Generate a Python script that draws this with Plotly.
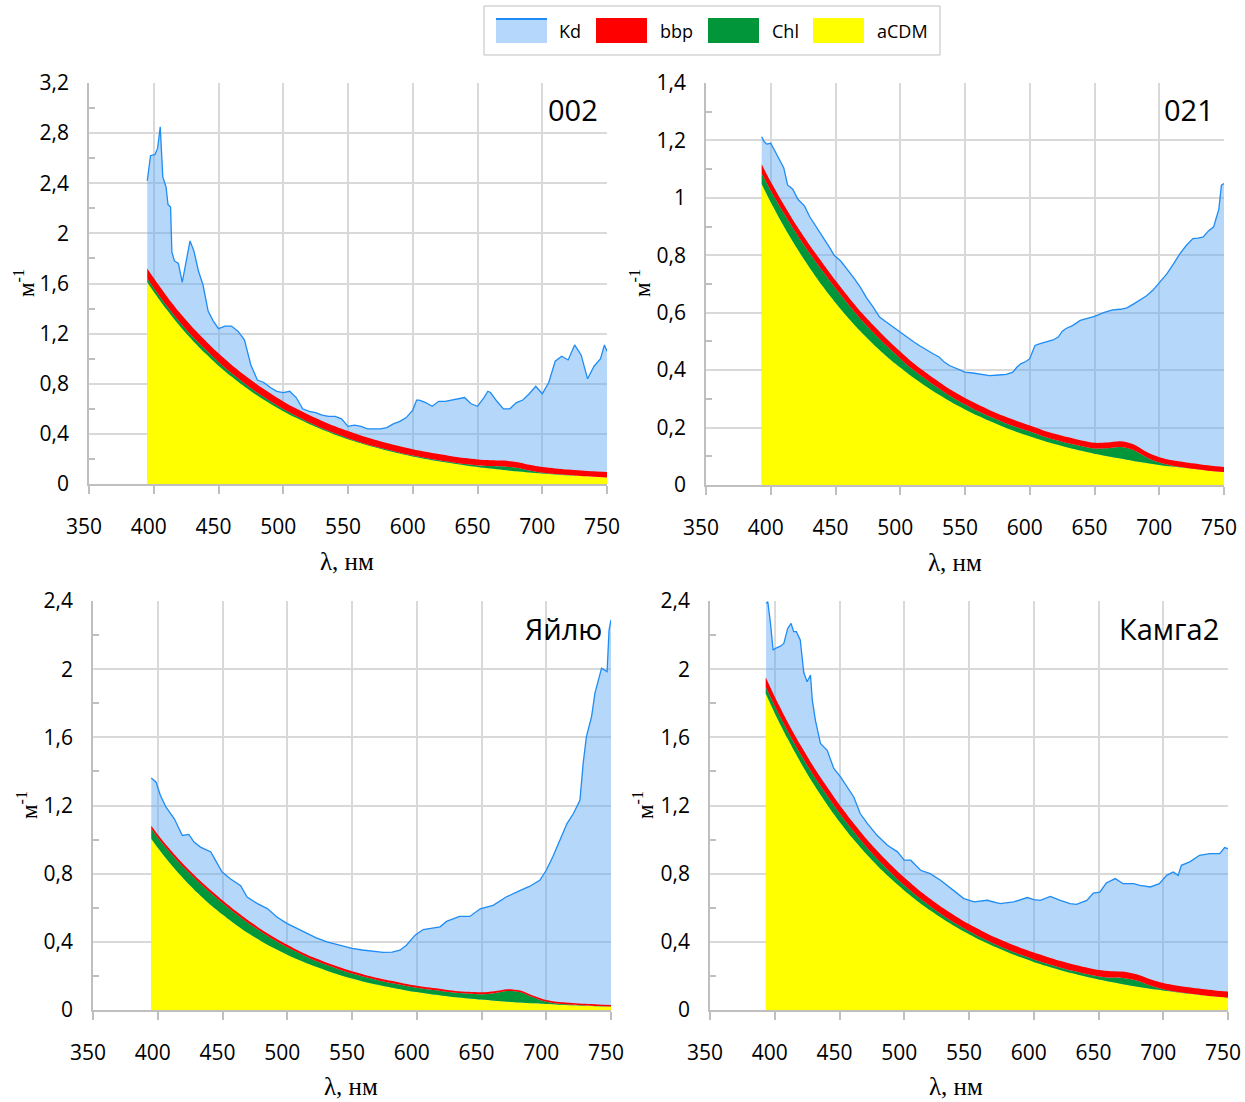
import plotly.graph_objects as go

# ---------------- data ----------------
# wavelength grids (nm) for modelled components
wl_a = [395, 400, 410, 420, 430, 440, 450, 460, 470, 480, 490, 500, 510, 520, 530, 540, 550, 560,
        570, 580, 590, 600, 610, 620, 630, 640, 650, 660, 670, 680, 690, 700, 710, 720, 730, 740, 750]
wl_b = [393, 400, 410, 420, 430, 440, 450, 460, 470, 480, 490, 500, 510, 520, 530, 540, 550, 560,
        570, 580, 590, 600, 610, 620, 630, 640, 650, 660, 670, 680, 690, 700, 710, 720, 730, 740, 750]

# ---- station 002 ----
acdm_002 = [1.61, 1.534, 1.392, 1.263, 1.146, 1.041, 0.944, 0.857, 0.778, 0.706, 0.641, 0.581, 0.528,
            0.479, 0.435, 0.394, 0.358, 0.325, 0.295, 0.268, 0.243, 0.220, 0.200, 0.181, 0.165, 0.150,
            0.136, 0.123, 0.112, 0.101, 0.092, 0.084, 0.076, 0.069, 0.063, 0.057, 0.051]
chl_002 = [0.030, 0.030, 0.030, 0.030, 0.030, 0.032, 0.030, 0.028, 0.025, 0.022, 0.020, 0.017, 0.014,
           0.012, 0.010, 0.009, 0.008, 0.007, 0.007, 0.007, 0.007, 0.007, 0.007, 0.008, 0.008, 0.009,
           0.012, 0.020, 0.028, 0.028, 0.015, 0.006, 0.003, 0.002, 0.001, 0.001, 0.001]
bbp_002 = [0.080, 0.079, 0.077, 0.075, 0.073, 0.071, 0.069, 0.067, 0.066, 0.064, 0.063, 0.061, 0.060,
           0.059, 0.058, 0.057, 0.056, 0.055, 0.054, 0.053, 0.052, 0.051, 0.050, 0.050, 0.049, 0.048,
           0.048, 0.047, 0.047, 0.046, 0.046, 0.045, 0.045, 0.044, 0.044, 0.043, 0.043]
kd_002_wl = [395, 396, 397.5, 401, 403, 405, 407, 409.5, 411, 413, 414, 416, 419, 422, 425.5, 428, 431,
             434.5, 438, 442, 446, 450, 455, 460, 465, 470, 475, 480, 485, 490, 495, 500, 505, 510, 515,
             520, 525, 530, 535, 540, 545, 550, 555, 560, 565, 570, 575, 580, 585, 590, 595, 600, 603,
             605, 610, 615, 620, 625, 630, 635, 640, 645, 650, 655, 658, 660, 665, 670, 675, 680, 685,
             690, 695, 700, 705, 710, 715, 720, 725, 730, 735, 740, 745, 748, 750]
kd_002 = [2.42, 2.50, 2.62, 2.63, 2.68, 2.85, 2.45, 2.37, 2.23, 2.21, 1.85, 1.78, 1.76, 1.61, 1.81, 1.94,
          1.86, 1.70, 1.59, 1.38, 1.30, 1.24, 1.26, 1.26, 1.22, 1.15, 0.95, 0.83, 0.81, 0.77, 0.74, 0.73,
          0.74, 0.69, 0.60, 0.58, 0.57, 0.55, 0.54, 0.54, 0.52, 0.46, 0.47, 0.46, 0.44, 0.44, 0.44, 0.45,
          0.48, 0.50, 0.53, 0.59, 0.67, 0.67, 0.65, 0.62, 0.66, 0.66, 0.67, 0.68, 0.69, 0.64, 0.62, 0.69,
          0.74, 0.73, 0.66, 0.60, 0.60, 0.65, 0.67, 0.72, 0.78, 0.72, 0.81, 0.98, 1.02, 0.99, 1.11, 1.03,
          0.84, 0.94, 1.00, 1.11, 1.06]

# ---- station 021 ----
acdm_021 = [1.048, 0.985, 0.902, 0.826, 0.757, 0.693, 0.635, 0.581, 0.532, 0.487, 0.446, 0.409, 0.374,
            0.343, 0.314, 0.287, 0.263, 0.241, 0.221, 0.202, 0.185, 0.170, 0.155, 0.142, 0.130, 0.119,
            0.109, 0.100, 0.092, 0.084, 0.077, 0.070, 0.064, 0.059, 0.054, 0.049, 0.045]
chl_021 = [0.037, 0.040, 0.045, 0.048, 0.050, 0.052, 0.050, 0.047, 0.043, 0.040, 0.036, 0.031, 0.027,
           0.024, 0.021, 0.019, 0.017, 0.016, 0.016, 0.016, 0.016, 0.016, 0.015, 0.015, 0.015, 0.016,
           0.018, 0.028, 0.040, 0.038, 0.020, 0.008, 0.003, 0.001, 0.000, 0.000, 0.000]
bbp_021 = [0.032, 0.031, 0.030, 0.029, 0.029, 0.028, 0.027, 0.027, 0.026, 0.026, 0.025, 0.025, 0.024,
           0.024, 0.024, 0.023, 0.023, 0.023, 0.022, 0.022, 0.022, 0.021, 0.021, 0.021, 0.021, 0.020,
           0.020, 0.020, 0.020, 0.020, 0.019, 0.019, 0.019, 0.019, 0.019, 0.018, 0.018]
kd_021_wl = [393, 395, 397, 400, 403, 406, 410, 413, 417, 421, 426, 430, 435, 440, 445, 449, 454, 459,
             464, 469, 474, 479, 484, 490, 495, 500, 505, 510, 515, 520, 525, 530, 534, 538, 544, 550,
             556, 562, 569, 576, 582, 587, 590, 593, 597, 600, 602, 604, 608, 613, 618, 622, 625, 628,
             633, 639, 645, 650, 657, 664, 670, 675, 680, 685, 690, 695, 700, 706, 711, 716, 721, 726,
             730, 734, 738, 742, 744, 746, 748, 750]
kd_021 = [1.213, 1.195, 1.187, 1.19, 1.165, 1.14, 1.105, 1.045, 1.03, 0.995, 0.972, 0.935, 0.898, 0.865,
          0.83, 0.80, 0.78, 0.752, 0.722, 0.69, 0.652, 0.62, 0.585, 0.565, 0.548, 0.532, 0.515, 0.5,
          0.485, 0.47, 0.458, 0.446, 0.428, 0.416, 0.404, 0.393, 0.39, 0.386, 0.381, 0.383, 0.385, 0.393,
          0.41, 0.422, 0.43, 0.44, 0.46, 0.486, 0.492, 0.498, 0.505, 0.515, 0.535, 0.545, 0.555, 0.573,
          0.58, 0.587, 0.6, 0.61, 0.612, 0.617, 0.63, 0.643, 0.658, 0.678, 0.705, 0.736, 0.77, 0.806,
          0.835, 0.858, 0.86, 0.864, 0.885, 0.899, 0.93, 0.96, 1.044, 1.05]

# ---- station Яйлю ----
acdm_yay = [1.005, 0.952, 0.856, 0.770, 0.692, 0.622, 0.560, 0.502, 0.450, 0.404, 0.362, 0.324, 0.290,
            0.259, 0.232, 0.207, 0.185, 0.165, 0.148, 0.132, 0.118, 0.105, 0.094, 0.084, 0.075, 0.068,
            0.061, 0.054, 0.049, 0.044, 0.039, 0.035, 0.031, 0.028, 0.025, 0.022, 0.020]
chl_yay = [0.058, 0.060, 0.064, 0.067, 0.069, 0.070, 0.068, 0.064, 0.059, 0.054, 0.049, 0.044, 0.040,
           0.036, 0.033, 0.031, 0.029, 0.028, 0.027, 0.026, 0.026, 0.026, 0.026, 0.026, 0.026, 0.028,
           0.032, 0.045, 0.062, 0.060, 0.035, 0.014, 0.006, 0.003, 0.002, 0.001, 0.001]
bbp_yay = [0.018, 0.018, 0.018, 0.017, 0.017, 0.017, 0.016, 0.016, 0.016, 0.015, 0.015, 0.015, 0.014,
           0.014, 0.014, 0.014, 0.013, 0.013, 0.013, 0.013, 0.012, 0.012, 0.012, 0.012, 0.011, 0.011,
           0.011, 0.011, 0.011, 0.010, 0.010, 0.010, 0.010, 0.010, 0.009, 0.009, 0.009]
kd_yay_wl = [395, 398.7, 402, 406.4, 412.8, 419, 424, 428, 433, 441, 444.6, 449.7, 456, 464, 469, 477,
             484.6, 492, 500, 507, 515, 522, 530.7, 540, 550, 558, 566.7, 574, 581, 587, 592, 598.7,
             605, 612, 618, 623, 633, 641, 649, 659, 669, 680, 687, 695, 700, 705, 710.6, 716, 721, 726,
             728.5, 731, 735, 737.6, 742.7, 747, 748.5, 750]
kd_yay = [1.362, 1.337, 1.26, 1.19, 1.122, 1.024, 1.03, 0.985, 0.956, 0.927, 0.878, 0.81, 0.77, 0.73,
          0.663, 0.624, 0.595, 0.546, 0.507, 0.48, 0.449, 0.425, 0.40, 0.38, 0.361, 0.352, 0.345, 0.338,
          0.34, 0.351, 0.38, 0.439, 0.472, 0.482, 0.488, 0.52, 0.549, 0.549, 0.594, 0.614, 0.663, 0.702,
          0.725, 0.761, 0.82, 0.898, 0.996, 1.094, 1.153, 1.231, 1.447, 1.604, 1.722, 1.859, 2.006,
          1.986, 2.231, 2.29]

# ---- station Камга2 ----
acdm_kam = [1.857, 1.742, 1.591, 1.453, 1.326, 1.211, 1.105, 1.009, 0.921, 0.841, 0.768, 0.701, 0.640,
            0.585, 0.534, 0.487, 0.445, 0.406, 0.371, 0.339, 0.309, 0.282, 0.258, 0.235, 0.215, 0.196,
            0.179, 0.164, 0.149, 0.136, 0.124, 0.114, 0.104, 0.095, 0.086, 0.079, 0.072]
chl_kam = [0.040, 0.042, 0.045, 0.048, 0.050, 0.052, 0.050, 0.047, 0.043, 0.039, 0.035, 0.031, 0.027,
           0.024, 0.021, 0.019, 0.017, 0.016, 0.015, 0.015, 0.015, 0.015, 0.015, 0.015, 0.015, 0.016,
           0.018, 0.026, 0.038, 0.036, 0.020, 0.008, 0.003, 0.002, 0.001, 0.000, 0.000]
bbp_kam = [0.055, 0.054, 0.053, 0.052, 0.051, 0.050, 0.049, 0.048, 0.047, 0.047, 0.046, 0.045, 0.045,
           0.044, 0.043, 0.043, 0.042, 0.042, 0.041, 0.041, 0.040, 0.040, 0.040, 0.039, 0.039, 0.039,
           0.038, 0.038, 0.038, 0.037, 0.037, 0.037, 0.037, 0.036, 0.036, 0.036, 0.036]
kd_kam_wl = [393.3, 394.6, 396.7, 398.7, 400.5, 404.4, 407, 410, 412.6, 414.6, 416.7, 419.7, 422.4, 425,
             427.6, 429, 431.4, 435.3, 440.5, 445.6, 450.8, 456, 461, 466, 471.6, 479, 487, 494.8, 500,
             505, 512.6, 520, 528, 538, 546, 554, 564, 574, 584.5, 595, 600, 605, 612.8, 620.5, 628, 633,
             641, 646, 651, 656, 663, 669, 677, 682, 690, 697, 702.6, 707.7, 711.5, 714, 720.5, 728, 736,
             743.6, 747.4, 750]
kd_kam = [2.386, 2.396, 2.27, 2.112, 2.122, 2.135, 2.151, 2.239, 2.269, 2.22, 2.22, 2.171, 1.98, 1.926,
          1.965, 1.818, 1.70, 1.564, 1.524, 1.417, 1.368, 1.309, 1.25, 1.153, 1.094, 1.025, 0.967, 0.928,
          0.879, 0.879, 0.82, 0.80, 0.761, 0.702, 0.654, 0.634, 0.644, 0.624, 0.634, 0.66, 0.648, 0.643,
          0.667, 0.643, 0.624, 0.62, 0.643, 0.686, 0.692, 0.745, 0.771, 0.741, 0.741, 0.731, 0.722, 0.741,
          0.79, 0.81, 0.79, 0.849, 0.869, 0.908, 0.918, 0.918, 0.953, 0.947]

station_names = ["002", "021", "Яйлю", "Камга2"]
legend_labels = ["Kd", "bbp", "Chl", "aCDM"]

x_ticks = [350, 400, 450, 500, 550, 600, 650, 700, 750]
x_ticktext = ["350", "400", "450", "500", "550", "600", "650", "700", "750"]
y_ticks_002 = [0, 0.4, 0.8, 1.2, 1.6, 2.0, 2.4, 2.8, 3.2]
y_ticktext_002 = ["0", "0,4", "0,8", "1,2", "1,6", "2", "2,4", "2,8", "3,2"]
y_ticks_021 = [0, 0.2, 0.4, 0.6, 0.8, 1.0, 1.2, 1.4]
y_ticktext_021 = ["0", "0,2", "0,4", "0,6", "0,8", "1", "1,2", "1,4"]
y_ticks_24 = [0, 0.4, 0.8, 1.2, 1.6, 2.0, 2.4]
y_ticktext_24 = ["0", "0,4", "0,8", "1,2", "1,6", "2", "2,4"]

# ---------------- styling ----------------
W, H = 1245, 1102
C_KD_LINE = "rgb(30,140,245)"
C_KD_FILL = "rgba(89,167,244,0.45)"
C_BBP = "#ff0000"
C_CHL = "#009639"
C_ACDM = "#ffff00"
GRID = "#d9d9d9"
AXC = "#bfbfbf"
TICKFONT = dict(family="Open Sans", size=21, color="#000000")


def px(x):
    return x / W


def py(y):
    return 1 - y / H


panels = [
    dict(wl=wl_a, acdm=acdm_002, chl=chl_002, bbp=bbp_002, kdwl=kd_002_wl, kd=kd_002,
         yt=y_ticks_002, ytt=y_ticktext_002, ymax=3.2, xl=89, xr=607, yt_px=83, yb_px=484,
         title=(600, 109), ylab=(24, 283), xlab=(347, 561)),
    dict(wl=wl_b, acdm=acdm_021, chl=chl_021, bbp=bbp_021, kdwl=kd_021_wl, kd=kd_021,
         yt=y_ticks_021, ytt=y_ticktext_021, ymax=1.4, xl=706, xr=1224, yt_px=83, yb_px=485,
         title=(1216, 109), ylab=(640, 283), xlab=(955, 562)),
    dict(wl=wl_a, acdm=acdm_yay, chl=chl_yay, bbp=bbp_yay, kdwl=kd_yay_wl, kd=kd_yay,
         yt=y_ticks_24, ytt=y_ticktext_24, ymax=2.4, xl=93, xr=611, yt_px=601, yb_px=1010,
         title=(604, 628), ylab=(27, 805), xlab=(351, 1086)),
    dict(wl=wl_b, acdm=acdm_kam, chl=chl_kam, bbp=bbp_kam, kdwl=kd_kam_wl, kd=kd_kam,
         yt=y_ticks_24, ytt=y_ticktext_24, ymax=2.4, xl=710, xr=1228, yt_px=601, yb_px=1010,
         title=(1221, 628), ylab=(643, 805), xlab=(956, 1086)),
]

fig = go.Figure()
annotations = []
shapes = []

for i, p in enumerate(panels):
    n = "" if i == 0 else str(i + 1)
    xa, ya = "x" + n, "y" + n
    # Kd: filled to zero, drawn first
    fig.add_trace(go.Scatter(x=p["kdwl"], y=p["kd"], xaxis=xa, yaxis=ya, mode="lines",
                             line=dict(color=C_KD_LINE, width=1.3), fill="tozeroy",
                             fillcolor=C_KD_FILL, showlegend=False, hoverinfo="skip"))
    sg = "s%d" % i
    for vals, col in ((p["acdm"], C_ACDM), (p["chl"], C_CHL), (p["bbp"], C_BBP)):
        fig.add_trace(go.Scatter(x=p["wl"], y=vals, xaxis=xa, yaxis=ya, mode="lines",
                                 stackgroup=sg, line=dict(width=0, shape="spline", smoothing=0.8,
                                                          color=col),
                                 fillcolor=col, showlegend=False, hoverinfo="skip"))
    step = p["yt"][1] - p["yt"][0]
    minor_vals = [round(v + step / 2, 3) for v in p["yt"][:-1]]
    fig.layout["xaxis" + n] = dict(
        domain=[px(p["xl"]), px(p["xr"])], anchor=ya, range=[350, 750], automargin=False,
        tickmode="array", tickvals=x_ticks, ticktext=x_ticktext,
        ticks="outside", ticklen=8, tickwidth=1.5, tickcolor=AXC,
        showline=True, linecolor=AXC, linewidth=1.5,
        showgrid=True, gridcolor=GRID, gridwidth=1.5, zeroline=False,
        tickfont=TICKFONT, ticklabelstandoff=15, ticklabelshift=-5,
        ticklabeloverflow="allow", fixedrange=True)
    fig.layout["yaxis" + n] = dict(
        domain=[py(p["yb_px"]), py(p["yt_px"])], anchor=xa, range=[0, p["ymax"]], automargin=False,
        tickmode="array", tickvals=p["yt"], ticktext=p["ytt"], ticks="",
        minor=dict(tickmode="array", tickvals=minor_vals, ticks="inside", ticklen=6,
                   tickwidth=1.5, tickcolor=AXC, showgrid=False),
        showline=True, linecolor=AXC, linewidth=1.5,
        showgrid=True, gridcolor=GRID, gridwidth=1.5, zeroline=False,
        tickfont=TICKFONT, ticklabelstandoff=14, ticklabeloverflow="allow", fixedrange=True)
    annotations.append(dict(text=station_names[i], xref="paper", yref="paper",
                            x=px(p["title"][0]), y=py(p["title"][1]), xanchor="right",
                            yanchor="middle", showarrow=False,
                            font=dict(family="Open Sans", size=29, color="#000000")))
    annotations.append(dict(text="м<sup>-1</sup>", xref="paper", yref="paper",
                            x=px(p["ylab"][0]), y=py(p["ylab"][1]), xanchor="center",
                            yanchor="middle", showarrow=False, textangle=-90,
                            font=dict(family="Liberation Serif", size=23, color="#000000")))
    annotations.append(dict(text="λ, нм", xref="paper", yref="paper",
                            x=px(p["xlab"][0]), y=py(p["xlab"][1]), xanchor="center",
                            yanchor="middle", showarrow=False,
                            font=dict(family="Liberation Serif", size=25, color="#000000")))

# custom legend box
shapes.append(dict(type="rect", xref="paper", yref="paper", x0=px(484), x1=px(940),
                   y0=py(55), y1=py(6), line=dict(color=AXC, width=1), fillcolor="white",
                   layer="above"))
leg_sw = [(496, "#b4d7fb"), (596, C_BBP), (708, C_CHL), (813, C_ACDM)]
leg_tx = [557, 658, 770, 875]
for (sx, col), tx, lab in zip(leg_sw, leg_tx, legend_labels):
    shapes.append(dict(type="rect", xref="paper", yref="paper", x0=px(sx), x1=px(sx + 51),
                       y0=py(43), y1=py(18), line=dict(width=0), fillcolor=col, layer="above"))
    annotations.append(dict(text=lab, xref="paper", yref="paper", x=px(tx), y=py(31),
                            xanchor="left", yanchor="middle", showarrow=False,
                            font=dict(family="Open Sans", size=18, color="#000000")))
shapes.append(dict(type="line", xref="paper", yref="paper", x0=px(496), x1=px(547),
                   y0=py(19), y1=py(19), line=dict(color=C_KD_LINE, width=2), layer="above"))

fig.update_layout(template="none", width=W, height=H,
                  margin=dict(l=0, r=0, t=0, b=0, pad=0, autoexpand=False),
                  paper_bgcolor="white", plot_bgcolor="white", showlegend=False,
                  annotations=annotations, shapes=shapes,
                  font=dict(family="Open Sans", color="#000000"))

fig.write_html("out.html", post_script="document.body.style.margin='0px';",
               config=dict(displayModeBar=False))
